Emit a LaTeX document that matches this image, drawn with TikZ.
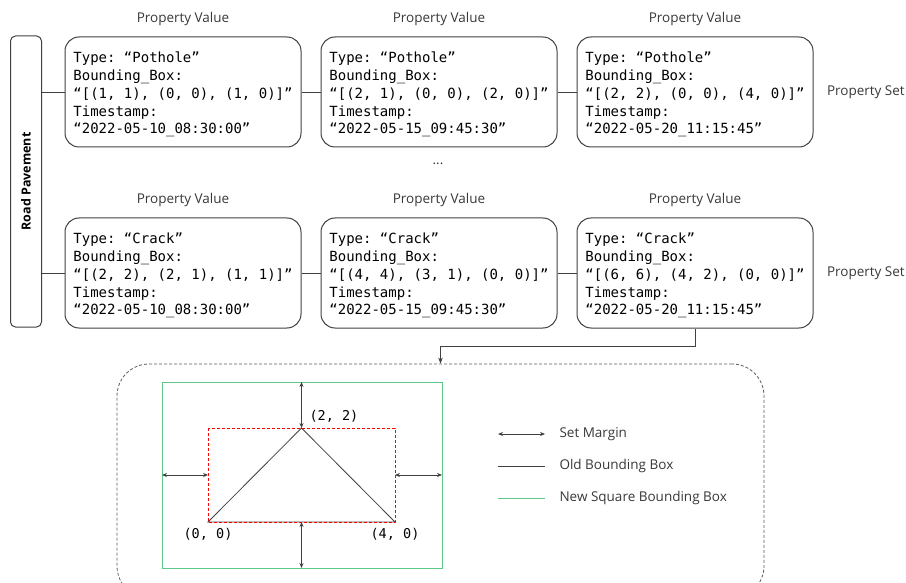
\documentclass[tikz,border=0pt]{standalone}
\usepackage{fontspec}
\setmainfont{Open Sans}
\setsansfont{Open Sans}
\setmonofont{DejaVu Sans Mono}
\usepackage{xcolor}
\usetikzlibrary{arrows.meta, positioning}

\definecolor{linegray}{HTML}{404040}
\definecolor{textgray}{HTML}{383838}
\definecolor{boxgreen}{HTML}{5CC98A}
\newcommand{\toppad}{\rule{0pt}{16pt}}

\begin{document}
\begin{tikzpicture}[x=1pt, y=-1pt,
        node distance=19pt,
        record/.style={rectangle, draw=linegray, line width=1pt, rounded corners=14pt, minimum width=236pt, minimum height=110pt, inner sep=0pt, align=left, font=\ttfamily\fontsize{14}{17.8}\selectfont},
        caption/.style={font=\fontsize{13.5}{16}\selectfont, text=textgray},
        pointlabel/.style={font=\ttfamily\fontsize{13.5}{16}\selectfont, text=black},
        link/.style={draw=linegray, line width=0.8pt},
        margin/.style={{Stealth[length=5pt,width=4pt]}-{Stealth[length=5pt,width=4pt]}, draw=linegray, line width=0.8pt}
    ]
    \useasboundingbox (0,0) rectangle (906,583);

    % Nodes
    \node[rectangle, draw=linegray, line width=1pt, rounded corners=5pt, rotate=90, minimum width=291pt, minimum height=31pt, font=\bfseries\fontsize{12.5}{15}\selectfont] (road) at (26,181.5) {Road Pavement};

    \node[record] (p1) at (183,92) {\toppad Type: “Pothole”\\Bounding\_Box:\\“[(1, 1), (0, 0), (1, 0)]”\\Timestamp:\\“2022-05-10\_08:30:00”};
    \node[record, right=of p1] (p2) {\toppad Type: “Pothole”\\Bounding\_Box:\\“[(2, 1), (0, 0), (2, 0)]”\\Timestamp:\\“2022-05-15\_09:45:30”};
    \node[record, right=of p2] (p3) {\toppad Type: “Pothole”\\Bounding\_Box:\\“[(2, 2), (0, 0), (4, 0)]”\\Timestamp:\\“2022-05-20\_11:15:45”};

    \node[record] (c1) at (183,273) {\toppad Type: “Crack”\\Bounding\_Box:\\“[(2, 2), (2, 1), (1, 1)]”\\Timestamp:\\“2022-05-10\_08:30:00”};
    \node[record, right=of c1] (c2) {\toppad Type: “Crack”\\Bounding\_Box:\\“[(4, 4), (3, 1), (0, 0)]”\\Timestamp:\\“2022-05-15\_09:45:30”};
    \node[record, right=of c2] (c3) {\toppad Type: “Crack”\\Bounding\_Box:\\“[(6, 6), (4, 2), (0, 0)]”\\Timestamp:\\“2022-05-20\_11:15:45”};

    \node[caption, above=7pt of p1] (pv1) {Property Value};
    \node[caption, above=7pt of p2] (pv2) {Property Value};
    \node[caption, above=7pt of p3] (pv3) {Property Value};
    \node[caption, above=7pt of c1] (cv1) {Property Value};
    \node[caption, above=7pt of c2] (cv2) {Property Value};
    \node[caption, above=7pt of c3] (cv3) {Property Value};
    \node[caption, right=10pt of p3] (pset) {Property Set};
    \node[caption, right=10pt of c3] (cset) {Property Set};
    \node[caption] (dots) at (438,164) {...};

    \node[rectangle, draw=linegray!85, dash pattern=on 3pt off 2pt, line width=0.8pt, rounded corners=32pt, minimum width=647pt, minimum height=234pt] (frame) at (440.5,481) {};

    % Edges
    \draw[link] (p1.west -| road.south) -- (p1.west);
    \draw[link] (c1.west -| road.south) -- (c1.west);
    \draw[link] (p1) -- (p2);
    \draw[link] (p2) -- (p3);
    \draw[link] (c1) -- (c2);
    \draw[link] (c2) -- (c3);
    \draw[link, -{Stealth[length=6pt,width=4.5pt]}] (c3.south) -- ++(0,18) -| (frame.north);

    % Square bounding box
    \coordinate (top) at (301.5,428);
    \coordinate (left) at (208,522);
    \coordinate (right) at (395,522);
    \draw[boxgreen, line width=1pt] (162,382) rectangle (442,568);
    \draw[linegray, line width=0.8pt] (left) -- (top) -- (right) -- cycle;
    \draw[red, dash pattern=on 3pt off 2pt, line width=0.8pt] (208,428) rectangle (395,522);
    \draw[margin] (301.5,382) -- (top);
    \draw[margin] (301.5,522) -- (301.5,568);
    \draw[margin] (162,475) -- (208,475);
    \draw[margin] (395,475) -- (442,475);
    \node[pointlabel, anchor=west] (ltop) at (306,416) {(2, 2)};
    \node[pointlabel, below=3pt of left] (lleft) {(0, 0)};
    \node[pointlabel, below=3pt of right] (lright) {(4, 0)};

    % Legend
    \coordinate (m1) at (498,434);
    \coordinate (m2) at (545,434);
    \coordinate (o1) at (498,466);
    \coordinate (o2) at (545,466);
    \coordinate (n1) at (498,498);
    \coordinate (n2) at (545,498);
    \draw[margin] (m1) -- (m2);
    \draw[linegray, line width=0.8pt] (o1) -- (o2);
    \draw[boxgreen, line width=1pt] (n1) -- (n2);
    \node[caption, anchor=west] (lm) at (556,434) {Set Margin};
    \node[caption, anchor=west] (lo) at (556,466) {Old Bounding Box};
    \node[caption, anchor=west] (ln) at (556,498) {New Square Bounding Box};

\end{tikzpicture}
\end{document}
